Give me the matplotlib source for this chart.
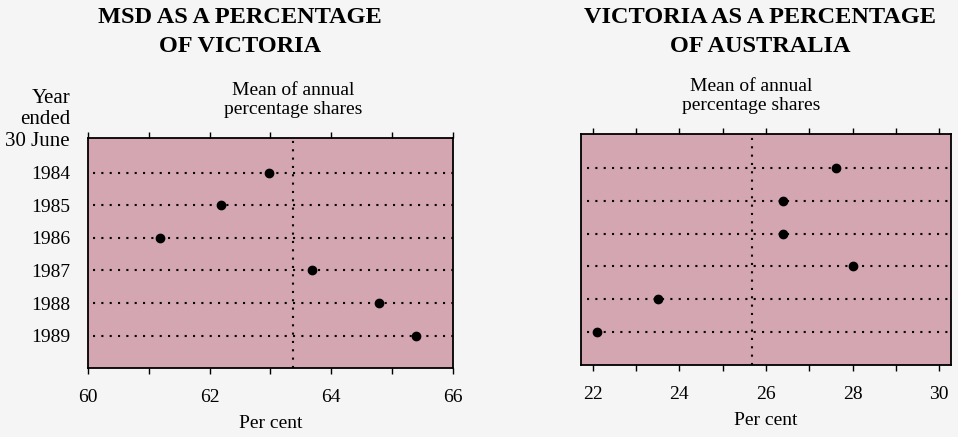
import matplotlib.pyplot as plt
from matplotlib.transforms import blended_transform_factory
from matplotlib.ticker import MultipleLocator

plt.rcParams['font.family'] = ['Liberation Serif', 'DejaVu Serif']

# data
years = ['1984', '1985', '1986', '1987', '1988', '1989']
msd_of_vic = [62.98, 62.18, 61.19, 63.68, 64.79, 65.39]
vic_of_aus = [27.61, 26.40, 26.40, 28.01, 23.50, 22.09]
msd_mean = sum(msd_of_vic) / len(msd_of_vic)
vic_mean = sum(vic_of_aus) / len(vic_of_aus)

pink = '#d3a6b1'
dots = (0, (1, 3))

fig = plt.figure(figsize=(9.58, 4.37), dpi=100)
fig.patch.set_facecolor('#f5f5f5')

W, H = 958, 437
def box(x0, x1, ytop, ybot):
    return [x0 / W, 1 - ybot / H, (x1 - x0) / W, (ybot - ytop) / H]

ax1 = fig.add_axes(box(88, 453, 138, 368))
ax2 = fig.add_axes(box(581, 951, 134, 365))

panels = [
    (ax1, msd_of_vic, msd_mean, (60, 66), (5.99, -1.06), 'MSD AS A PERCENTAGE\nOF VICTORIA', 240),
    (ax2, vic_of_aus, vic_mean, (21.73, 30.27), (5.99, -1.02), 'VICTORIA AS A PERCENTAGE\nOF AUSTRALIA', 760),
]

for ax, vals, mean, xl, yl, title, tx in panels:
    ax.set_facecolor(pink)
    pos = list(range(len(years)))
    for p in pos:
        ax.axhline(p, xmin=0.015, xmax=1, color='black', lw=1.5, ls=dots)
    ax.axvline(mean, color='black', lw=1.5, ls=dots)
    ax.plot(vals, pos, 'o', color='black', ms=6, zorder=3)
    ax.set_xlim(*xl)
    ax.set_ylim(*yl)
    ax.xaxis.set_major_locator(MultipleLocator(2))
    ax.xaxis.set_minor_locator(MultipleLocator(1))
    ax.tick_params(axis='x', which='both', direction='out', length=4, width=1,
                   top=True, labelsize=14, pad=11)
    ax.set_yticks(pos)
    ax.tick_params(axis='y', length=0, labelsize=14, pad=13)
    for s in ax.spines.values():
        s.set_linewidth(1.3)
    ax.text(0.5, -0.24, 'Per cent', transform=ax.transAxes, ha='center', va='center', fontsize=14)
    tr = blended_transform_factory(ax.transData, ax.transAxes)
    ax.text(mean, 1.165, 'Mean of annual\npercentage shares', transform=tr,
            ha='center', va='center', fontsize=14, linespacing=1.1)
    fig.text(tx / W, 1 - 32 / H, title, ha='center', va='center', fontsize=17.5,
             fontweight='bold', linespacing=1.5)

ax1.set_yticklabels(years)
ax2.set_yticklabels([])

fig.text(70 / W, 1 - 120 / H, 'Year\nended\n30 June', ha='right', va='center',
         fontsize=15, linespacing=1.2)

fig.savefig('out.png', dpi=100, facecolor=fig.get_facecolor())
